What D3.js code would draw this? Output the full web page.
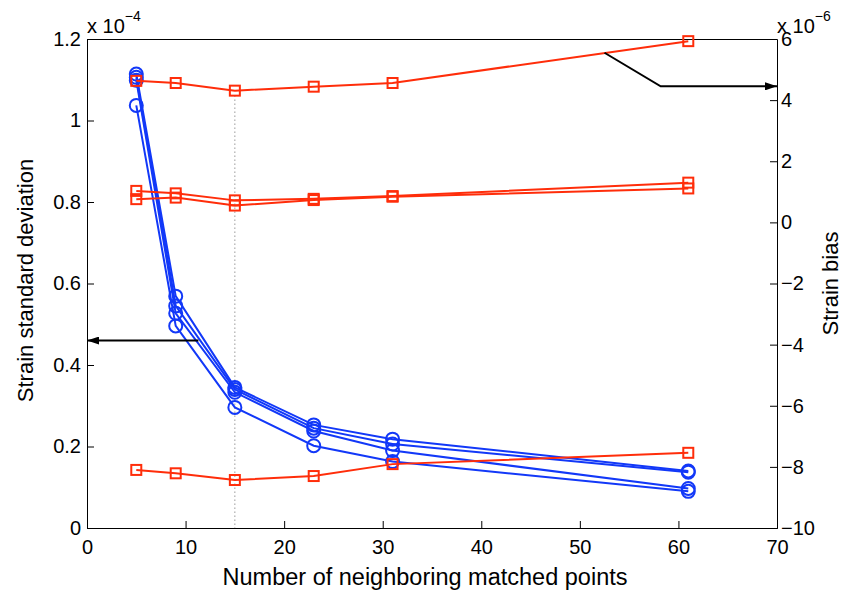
<!DOCTYPE html>
<html>
<head>
<meta charset="utf-8">
<script src="https://cdn.jsdelivr.net/npm/d3@7"></script>
<style>
  html, body { margin: 0; padding: 0; background: #fff; }
  svg { display: block; font-family: "Liberation Sans", Arial, Helvetica, sans-serif; }
</style>
</head>
<body>
<svg id="chart" width="845" height="599"></svg>
<script>
// ---- data ----
const xPoints = [5, 9, 15, 23, 31, 61];
// strain standard deviation (left axis, units of 1e-4)
const stdA = [1.114, 0.569, 0.345, 0.253, 0.218, 0.140];
const stdB = [1.106, 0.545, 0.340, 0.245, 0.206, 0.137];
const stdC = [1.099, 0.527, 0.333, 0.238, 0.190, 0.097];
const stdD = [1.037, 0.496, 0.296, 0.202, 0.163, 0.090];
// strain bias (right axis, units of 1e-6)
const biasA = [4.63, 4.56, 4.31, 4.44, 4.56, 5.93];
const biasB = [1.03, 0.95, 0.72, 0.77, 0.86, 1.30];
const biasC = [0.76, 0.81, 0.55, 0.73, 0.84, 1.11];
const biasD = [-8.10, -8.21, -8.43, -8.30, -7.91, -7.54];
const xTicks = [0, 10, 20, 30, 40, 50, 60, 70];
const leftTicks = [0, 0.2, 0.4, 0.6, 0.8, 1.0, 1.2];
const rightTicks = [-10, -8, -6, -4, -2, 0, 2, 4, 6];
const markedX = 15;
const leftArrowY = 0.46;   // left-axis units
const rightArrowY = 4.45;  // right-axis units

// ---- layout ----
const W = 845, H = 599;
const m = { left: 87, right: 68, top: 39, bottom: 71 };
const svg = d3.select("#chart");
const BLUE = "#1238f8", RED = "#ff2d0a";

const x = d3.scaleLinear().domain([0, 70]).range([m.left, W - m.right]);
const yL = d3.scaleLinear().domain([0, 1.2]).range([H - m.bottom, m.top]);
const yR = d3.scaleLinear().domain([-10, 6]).range([H - m.bottom, m.top]);

const defs = svg.append("defs");
defs.append("marker").attr("id", "ah").attr("viewBox", "0 0 12 8")
  .attr("refX", 12).attr("refY", 4).attr("markerWidth", 13).attr("markerHeight", 8)
  .attr("markerUnits", "userSpaceOnUse").attr("orient", "auto")
  .append("path").attr("d", "M0,0L12,4L0,8Z").attr("fill", "#000");

// dotted vertical line at x = 15
svg.append("line")
  .attr("x1", x(markedX)).attr("x2", x(markedX))
  .attr("y1", yR(biasA[xPoints.indexOf(markedX)]) + 5).attr("y2", yL(0))
  .attr("stroke", "#666").attr("stroke-width", 1).attr("stroke-dasharray", "1,3");

// box top line
svg.append("line").attr("x1", x(0)).attr("x2", x(70)).attr("y1", yL(1.2) + 0.5).attr("y2", yL(1.2) + 0.5)
  .attr("stroke", "#000").attr("stroke-width", 1);

// axes
const fmtL = v => v === 0 ? "0" : (v === 1 ? "1" : d3.format(".1f")(v));
const gx = svg.append("g").attr("transform", `translate(0,${H - m.bottom})`)
  .call(d3.axisBottom(x).tickValues(xTicks).tickSize(-7).tickPadding(12).tickFormat(d3.format("d")));
const gl = svg.append("g").attr("transform", `translate(${m.left},0)`)
  .call(d3.axisLeft(yL).tickValues(leftTicks).tickSize(-7).tickPadding(6).tickFormat(fmtL));
const gr = svg.append("g").attr("transform", `translate(${W - m.right},0)`)
  .call(d3.axisRight(yR).tickValues(rightTicks).tickSize(-7).tickPadding(4).tickFormat(d3.format("d")));
[gx, gl, gr].forEach(g => {
  g.select(".domain").attr("stroke", "#000").attr("stroke-width", 1);
  g.selectAll(".tick line").attr("stroke", "#000");
  g.selectAll(".tick text").attr("font-size", 20).attr("fill", "#000")
    .attr("font-family", "'Liberation Sans', Arial, sans-serif");
});

// blue std lines
const lineL = d3.line().x((d, i) => x(xPoints[i])).y(d => yL(d));
const lineR = d3.line().x((d, i) => x(xPoints[i])).y(d => yR(d));
const stdSeries = [stdA, stdB, stdC, stdD];
const biasSeries = [biasA, biasB, biasC, biasD];

stdSeries.forEach(s => {
  svg.append("path").attr("d", lineL(s)).attr("fill", "none")
    .attr("stroke", BLUE).attr("stroke-width", 2);
  svg.append("g").selectAll("circle").data(s).join("circle")
    .attr("cx", (d, i) => x(xPoints[i])).attr("cy", d => yL(d)).attr("r", 6.5)
    .attr("fill", "none").attr("stroke", BLUE).attr("stroke-width", 2);
});

biasSeries.forEach(s => {
  svg.append("path").attr("d", lineR(s)).attr("fill", "none")
    .attr("stroke", RED).attr("stroke-width", 2);
  svg.append("g").selectAll("rect").data(s).join("rect")
    .attr("x", (d, i) => x(xPoints[i]) - 5).attr("y", d => yR(d) - 5)
    .attr("width", 10).attr("height", 10)
    .attr("fill", "none").attr("stroke", RED).attr("stroke-width", 2);
});

// arrows
svg.append("line")
  .attr("x1", x(11.3)).attr("x2", x(0)).attr("y1", yL(leftArrowY)).attr("y2", yL(leftArrowY))
  .attr("stroke", "#000").attr("stroke-width", 2).attr("marker-end", "url(#ah)");
svg.append("path")
  .attr("d", `M${x(52.5)},${yR(5.55)}L${x(58.2)},${yR(rightArrowY)}L${x(70)},${yR(rightArrowY)}`)
  .attr("fill", "none").attr("stroke", "#000").attr("stroke-width", 2).attr("marker-end", "url(#ah)");

// exponent labels
const e1 = svg.append("text").attr("x", x(0)).attr("y", 33).attr("font-size", 20);
e1.append("tspan").text("x 10");
e1.append("tspan").attr("dy", -12).attr("font-size", 14).text("−4");
const e2 = svg.append("text").attr("x", x(70)).attr("y", 33).attr("font-size", 20);
e2.append("tspan").text("x 10");
e2.append("tspan").attr("dy", -12).attr("font-size", 14).text("−6");

// axis titles
svg.append("text").attr("x", 425).attr("y", 585)
  .attr("text-anchor", "middle").attr("font-size", 23.5).text("Number of neighboring matched points");
svg.append("text").attr("transform", `translate(33,${(yL(0) + yL(1.2)) / 2 - 3}) rotate(-90)`)
  .attr("text-anchor", "middle").attr("font-size", 22).text("Strain standard deviation");
svg.append("text").attr("transform", `translate(838,${(yL(0) + yL(1.2)) / 2}) rotate(-90)`)
  .attr("text-anchor", "middle").attr("font-size", 22).text("Strain bias");
</script>
</body>
</html>
